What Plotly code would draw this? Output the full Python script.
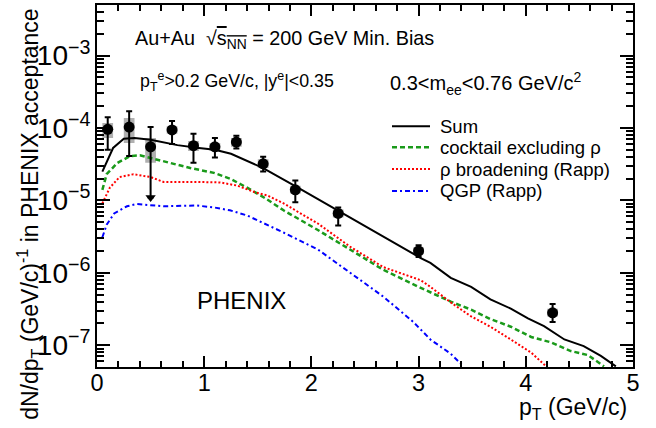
import plotly.graph_objects as go
import numpy as np

# ---- data ----
pt = [0.1, 0.3, 0.5, 0.7, 0.9, 1.1, 1.3, 1.55, 1.85, 2.25, 3.0, 4.25]
yld = [9.6e-5, 1.03e-4, 5.5e-5, 9.4e-5, 5.7e-5, 5.5e-5, 6.4e-5, 3.2e-5, 1.4e-5, 6.6e-6, 2.0e-6, 2.8e-7]
stat_hi = [1.41e-4, 1.7e-4, 1.03e-4, 1.25e-4, 8.3e-5, 7.3e-5, 7.8e-5, 4.0e-5, 1.88e-5, 8.0e-6, 2.4e-6, 3.7e-7]
stat_lo = [5.0e-5, 4.1e-5, 1.1e-5, 6.0e-5, 3.3e-5, 3.9e-5, 5.2e-5, 2.5e-5, 9.4e-6, 4.5e-6, 1.65e-6, 2.1e-7]
sys_hi = [1.17e-4, 1.37e-4, 7.3e-5, 1.06e-4, 6.6e-5, 6.2e-5, 7.3e-5, 3.7e-5, 1.6e-5, 7.5e-6, 2.25e-6, 3.2e-7]
sys_lo = [7.3e-5, 6.2e-5, 3.3e-5, 8.3e-5, 4.8e-5, 4.8e-5, 5.5e-5, 2.8e-5, 1.25e-5, 5.8e-6, 1.8e-6, 2.5e-7]
upper_limit = [False, False, True, False, False, False, False, False, False, False, False, False]

sum_x = [0.05, 0.15, 0.25, 0.35, 0.5, 0.75, 0.95, 1.1, 1.25, 1.4, 1.55, 1.87, 2.24, 2.62, 3.02, 3.11,
         3.3, 3.49, 3.67, 3.86, 4.02, 4.17, 4.36, 4.54, 4.7, 4.84]
sum_y = [2.5e-5, 5.3e-5, 7.1e-5, 7.3e-5, 6.9e-5, 5.8e-5, 5.3e-5, 5.0e-5, 4.4e-5, 3.5e-5, 2.8e-5, 1.51e-5,
         7.3e-6, 3.5e-6, 1.6e-6, 1.37e-6, 8.5e-7, 6.4e-7, 4.3e-7, 3.2e-7, 2.35e-7, 1.83e-7, 1.2e-7,
         9.7e-8, 7.1e-8, 5.1e-8]

cocktail_x = [0.05, 0.09, 0.19, 0.31, 0.4, 0.62, 0.87, 1.09, 1.24, 1.4, 1.57, 1.74, 2.06, 2.36, 2.67,
              3.02, 3.3, 3.49, 3.67, 3.86, 4.05, 4.23, 4.42, 4.58, 4.73]
cocktail_y = [1.4e-5, 2.3e-5, 3.3e-5, 4.1e-5, 4.2e-5, 3.5e-5, 2.8e-5, 2.4e-5, 2.0e-5, 1.5e-5, 1.07e-5,
              7.3e-6, 3.9e-6, 2.1e-6, 1.1e-6, 6.2e-7, 4.0e-7, 3.1e-7, 2.3e-7, 1.8e-7, 1.3e-7, 1.1e-7,
              8.3e-8, 7.3e-8, 5.1e-8]

rho_x = [0.05, 0.12, 0.21, 0.34, 0.5, 0.62, 0.93, 1.15, 1.31, 1.47, 1.59, 1.74, 2.06, 2.36, 2.67, 3.02,
         3.11, 3.3, 3.49, 3.67, 3.86, 4.05, 4.19]
rho_y = [9.1e-6, 1.5e-5, 2.1e-5, 2.3e-5, 2.1e-5, 1.8e-5, 1.8e-5, 1.77e-5, 1.6e-5, 1.3e-5, 1.17e-5, 9.1e-6,
         4.8e-6, 2.3e-6, 1.2e-6, 7.9e-7, 6.4e-7, 3.9e-7, 2.5e-7, 1.8e-7, 1.2e-7, 7.9e-8, 5.1e-8]

qgp_x = [0.05, 0.09, 0.16, 0.28, 0.37, 0.62, 0.93, 1.09, 1.24, 1.4, 1.56, 1.74, 2.06, 2.36, 2.67, 2.95,
         3.11, 3.3, 3.42]
qgp_y = [3.1e-6, 4.6e-6, 6.6e-6, 8.3e-6, 8.9e-6, 8.3e-6, 8.5e-6, 8.0e-6, 7.3e-6, 6.2e-6, 4.8e-6, 3.6e-6,
         2.1e-6, 1.0e-6, 4.7e-7, 2.1e-7, 1.2e-7, 7.6e-8, 5.1e-8]

legend_names = ["Sum", "cocktail excluding ρ", "ρ broadening (Rapp)", "QGP (Rapp)"]

x_range = [0, 5]
y_range = [5e-8, 5e-3]

# ---- styles ----
FONT = "Liberation Sans, Arial, sans-serif"
styles = [
    dict(color="black", width=2),
    dict(color="#1a9a1a", width=2.5, dash="5px,3px"),
    dict(color="#ff0000", width=2, dash="2px,2px"),
    dict(color="#0000ff", width=2, dash="5px,3px,2px,3px"),
]

fig = go.Figure()

# systematic boxes
box_half = 0.05
bx, by = [], []
for x, lo, hi in zip(pt, sys_lo, sys_hi):
    bx += [x - box_half, x + box_half, x + box_half, x - box_half, x - box_half, None]
    by += [lo, lo, hi, hi, lo, None]
fig.add_trace(go.Scatter(x=bx, y=by, mode="lines", fill="toself",
                         fillcolor="rgba(150,150,150,0.75)", line=dict(width=0),
                         showlegend=False, hoverinfo="skip"))

# model curves
for (cx, cy), name, st in zip([(sum_x, sum_y), (cocktail_x, cocktail_y), (rho_x, rho_y), (qgp_x, qgp_y)],
                              legend_names, styles):
    fig.add_trace(go.Scatter(x=cx, y=cy, mode="lines", name=name, line=st, showlegend=False))

# data points
err_plus = [h - y for h, y in zip(stat_hi, yld)]
err_minus = [y - l for l, y in zip(stat_lo, yld)]
fig.add_trace(go.Scatter(x=pt, y=yld, mode="markers", showlegend=False,
                         marker=dict(color="black", size=11, symbol="circle"),
                         error_y=dict(type="data", symmetric=False, array=err_plus,
                                      arrayminus=err_minus, color="black", thickness=2, width=3)))
# arrow heads for upper limits
ul_x = [x for x, u in zip(pt, upper_limit) if u]
ul_y = [l for l, u in zip(stat_lo, upper_limit) if u]
fig.add_trace(go.Scatter(x=ul_x, y=ul_y, mode="markers", showlegend=False,
                         marker=dict(color="black", size=9, symbol="triangle-down")))

axis_common = dict(showline=True, linecolor="black", linewidth=2, mirror="allticks",
                   ticks="inside", tickcolor="black", tickwidth=1.5, showgrid=False,
                   zeroline=False)

fig.update_xaxes(range=x_range, dtick=1, tick0=0, ticklen=11,
                 tickfont=dict(family=FONT, size=23.5, color="black"), ticklabelstandoff=-6,
                 minor=dict(ticks="inside", dtick=0.2, ticklen=6, tickcolor="black", tickwidth=1.5),
                 **axis_common)
fig.update_yaxes(type="log", range=[np.log10(y_range[0]), np.log10(y_range[1])], dtick=1,
                 exponentformat="power", showexponent="all", ticklen=13,
                 tickfont=dict(family=FONT, size=22.5, color="black"),
                 minor=dict(ticks="inside", dtick="D1", ticklen=7, tickcolor="black", tickwidth=1.5),
                 **axis_common)

W, H = 656, 428
L, R, T, B = 97, 23, 3, 61
pw, ph = W - L - R, H - T - B


def px(xp):
    return (xp - L) / pw


def py(yp):
    return (H - B - yp) / ph


ann = [
    dict(text="Au+Au  √<span style='text-decoration:overline'>s<sub>NN</sub></span> = 200 GeV Min. Bias",
         x=px(133), y=py(38), xanchor="left", yanchor="middle", size=19.8),
    dict(text="p<sub>T</sub><sup>e</sup>>0.2 GeV/c, |y<sup>e</sup>|<0.35",
         x=px(138), y=py(80), xanchor="left", yanchor="middle", size=17.8),
    dict(text="0.3<m<sub>ee</sub><0.76 GeV/c<sup>2</sup>",
         x=px(388), y=py(82), xanchor="left", yanchor="middle", size=20),
    dict(text="PHENIX", x=px(195), y=py(300), xanchor="left", yanchor="middle", size=24),
    dict(text="p<sub>T</sub> (GeV/c)", x=px(629), y=py(409), xanchor="right", yanchor="middle", size=23),
]
annotations = [dict(text=a["text"], x=a["x"], y=a["y"], xref="paper", yref="paper",
                    xanchor=a["xanchor"], yanchor=a["yanchor"], showarrow=False,
                    font=dict(family=FONT, size=a["size"], color="black")) for a in ann]
annotations.append(dict(text="dN/dp<sub>T</sub> (GeV/c)<sup>-1</sup> in PHENIX acceptance",
                        x=px(29), y=py(213), xref="paper", yref="paper", textangle=-90,
                        xanchor="center", yanchor="middle", showarrow=False,
                        font=dict(family=FONT, size=23, color="black")))

# legend drawn as samples + labels
leg_rows = [125, 146, 168, 190]
shapes = []
for name, st, row in zip(legend_names, styles, leg_rows):
    shapes.append(dict(type="line", xref="paper", yref="paper", x0=px(392), x1=px(430),
                       y0=py(row), y1=py(row), line=st))
    annotations.append(dict(text=name, x=px(438), y=py(row), xref="paper", yref="paper",
                            xanchor="left", yanchor="middle", showarrow=False,
                            font=dict(family=FONT, size=18.5, color="black")))

fig.update_layout(
    width=W, height=H,
    margin=dict(l=L, r=R, t=T, b=B, pad=0),
    paper_bgcolor="white", plot_bgcolor="white",
    annotations=annotations, shapes=shapes,
    showlegend=False,
)

fig.write_html("out.html", config={"displayModeBar": False},
               post_script="document.body.style.margin='0px';")
